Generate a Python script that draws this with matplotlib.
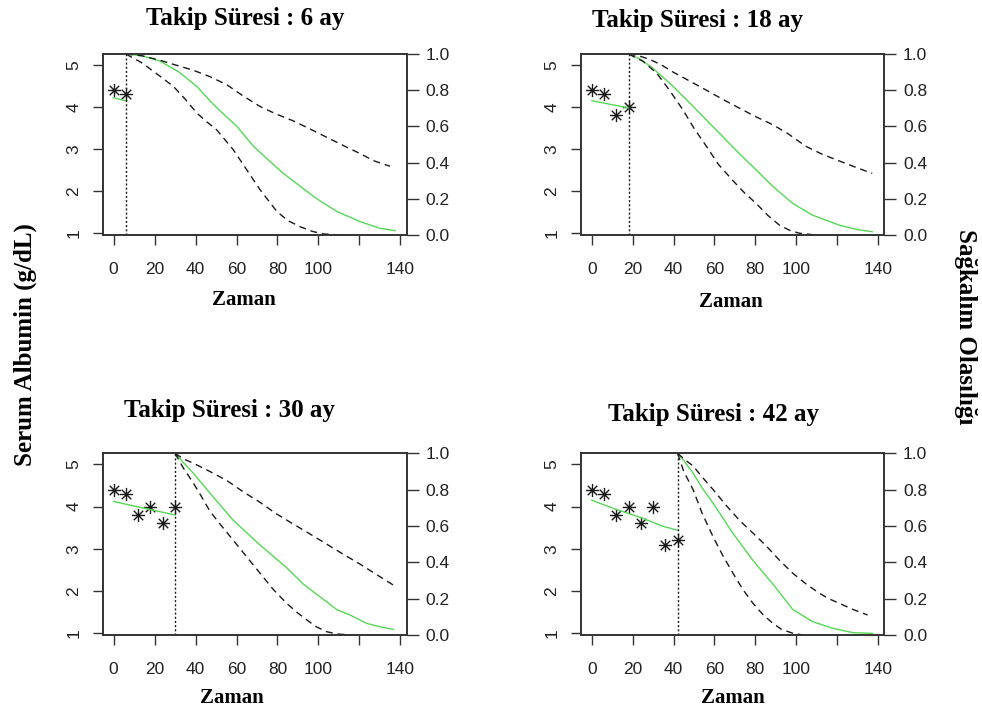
import matplotlib

matplotlib.use("Agg")
import matplotlib.pyplot as plt
from matplotlib.path import Path

# observed albumin values (g/dL) per visit month
obs_time = [0, 6, 12, 18, 24, 30, 36, 42]
obs_alb = [4.4, 4.3, 3.8, 4.0, 3.6, 4.0, 3.1, 3.2]

followup = [6, 18, 30, 42]
titles = ["Takip Süresi : 6 ay", "Takip Süresi : 18 ay",
          "Takip Süresi : 30 ay", "Takip Süresi : 42 ay"]

# fitted longitudinal trajectory (green) up to the follow-up time
fit_t = [[0, 6], [0, 18], [0, 30], [0, 12, 24, 35, 42]]
fit_y = [[4.22, 4.15], [4.15, 3.98], [4.12, 3.80], [4.15, 3.93, 3.74, 3.53, 3.44]]

# survival estimate and pointwise band
surv_t = [
    [6, 14, 22.8, 32, 40.7, 48.8, 60.2, 68.3, 76, 82.9, 91, 99.2, 109, 120.3, 130, 137.4],
    [18, 24, 30, 39, 47.9, 60.9, 72.2, 80.4, 88.5, 98.3, 108, 121, 130, 137.3],
    [30, 34, 39, 47.1, 58.5, 71.5, 84.5, 92.6, 100.8, 108.9, 115.4, 123.5, 130, 136.5],
    [42, 45, 49.6, 54, 59.4, 69.1, 78.9, 88.7, 98.4, 108.2, 117.9, 127.7, 137.5],
]
surv_s = [
    [1.0, 0.99, 0.96, 0.90, 0.82, 0.72, 0.60, 0.49, 0.41, 0.34, 0.27, 0.20, 0.13, 0.074, 0.037, 0.024],
    [1.0, 0.97, 0.92, 0.83, 0.73, 0.58, 0.45, 0.36, 0.27, 0.175, 0.11, 0.055, 0.03, 0.018],
    [1.0, 0.95, 0.89, 0.78, 0.63, 0.495, 0.37, 0.28, 0.21, 0.14, 0.11, 0.064, 0.045, 0.031],
    [1.0, 0.96, 0.89, 0.81, 0.725, 0.56, 0.41, 0.28, 0.14, 0.073, 0.037, 0.013, 0.009],
]
upper_t = [
    [6, 14, 22.8, 30, 39, 47, 55.3, 63, 71.5, 79, 87.8, 96, 104, 112, 120.3, 127, 134.9],
    [18, 23, 28.4, 34, 39.8, 48, 56.1, 64, 72.4, 80, 88.5, 96, 104.8, 113, 121, 129, 137.3],
    [30, 34, 39, 47, 55.3, 63, 71.5, 79, 87.8, 96, 104, 112, 120.3, 128, 136.5],
    [42, 45, 49.6, 54, 59.4, 66, 72.4, 79, 85.4, 92, 98.4, 105, 111.4, 116, 121.2, 128, 135],
]
upper_s = [
    [1.0, 0.99, 0.965, 0.94, 0.91, 0.875, 0.83, 0.77, 0.71, 0.67, 0.63, 0.585, 0.54, 0.495, 0.45, 0.41, 0.38],
    [1.0, 0.99, 0.97, 0.94, 0.90, 0.85, 0.80, 0.75, 0.70, 0.655, 0.61, 0.56, 0.49, 0.445, 0.41, 0.375, 0.34],
    [1.0, 0.97, 0.945, 0.90, 0.85, 0.79, 0.73, 0.67, 0.61, 0.555, 0.50, 0.445, 0.39, 0.335, 0.275],
    [1.0, 0.97, 0.93, 0.87, 0.80, 0.71, 0.63, 0.56, 0.49, 0.41, 0.34, 0.28, 0.23, 0.20, 0.174, 0.14, 0.11],
]
lower_t = [
    [6, 14, 22.8, 29.3, 35, 40.7, 45, 50.4, 58.5, 65, 71.5, 79.7, 85, 91, 97, 102.4, 110.5],
    [18, 25, 31.7, 38, 44.7, 50, 56.1, 62, 69.1, 75, 80.4, 86, 91.8, 97, 101.5, 109.6],
    [30, 34, 39, 43, 47.1, 52, 58.5, 65, 71.5, 78, 84.5, 90, 94.3, 99, 104, 109, 115.4],
    [42, 45, 49.6, 54, 59.4, 64, 69.1, 74, 78.9, 84, 88.7, 93, 98.4, 103.3],
]
lower_s = [
    [1.0, 0.95, 0.876, 0.82, 0.75, 0.673, 0.63, 0.58, 0.47, 0.36, 0.25, 0.13, 0.08, 0.046, 0.02, 0.006, 0.0],
    [1.0, 0.96, 0.895, 0.80, 0.69, 0.59, 0.49, 0.39, 0.30, 0.23, 0.175, 0.11, 0.055, 0.025, 0.01, 0.0],
    [1.0, 0.92, 0.835, 0.76, 0.68, 0.61, 0.52, 0.43, 0.34, 0.25, 0.174, 0.12, 0.083, 0.045, 0.018, 0.006, 0.0],
    [1.0, 0.90, 0.80, 0.67, 0.54, 0.44, 0.34, 0.25, 0.174, 0.11, 0.064, 0.03, 0.01, 0.0],
]

x_ticks = [0, 20, 40, 60, 80, 100, 120, 140]
x_labels = ["0", "20", "40", "60", "80", "100", "", "140"]
alb_ticks = [1, 2, 3, 4, 5]
surv_ticks = [0.0, 0.2, 0.4, 0.6, 0.8, 1.0]

W, H = 982, 717
# axes boxes in pixels: left, right, top, bottom
boxes = [(102.7, 407, 54, 235), (581, 884.3, 54, 235),
         (102.7, 407, 453.3, 635), (581, 884.3, 453.3, 635)]
title_pos = [(245, 19), (697, 21), (229, 411), (714, 415)]
xlab_pos = [(244, 300), (731, 302), (232, 698), (733, 698)]

GREEN = "#55d955"
INK = "#1a1a1a"
SERIF = "Liberation Serif"
SANS = "Liberation Sans"

# R style asterisk (pch = 8)
d = 0.72
star = Path([(-1, 0), (1, 0), (0, -1), (0, 1), (-d, -d), (d, d), (-d, d), (d, -d)],
            [Path.MOVETO, Path.LINETO] * 4)

fig = plt.figure(figsize=(W / 100, H / 100), dpi=100)

for i in range(4):
    l, r, t, b = boxes[i]
    ax = fig.add_axes([l / W, 1 - b / H, (r - l) / W, (b - t) / H])
    ax2 = ax.twinx()

    n = sum(1 for tt in obs_time if tt <= followup[i])
    ax.plot(obs_time[:n], obs_alb[:n], linestyle="none", marker=star,
            markersize=9.5, markeredgewidth=1.0, color=INK)
    ax.plot(fit_t[i], fit_y[i], color=GREEN, lw=1.0)
    ax.axvline(followup[i], color=INK, lw=1.0, linestyle=(0, (1.5, 1.5)))

    ax2.plot(surv_t[i], surv_s[i], color=GREEN, lw=1.0)
    ax2.plot(upper_t[i], upper_s[i], color=INK, lw=1.0, dashes=(5, 3.5))
    ax2.plot(lower_t[i], lower_s[i], color=INK, lw=1.0, dashes=(5, 3.5))

    ax.set_xlim(-5.3, 143.2)
    ax.set_ylim(0.96, 5.26)
    ax2.set_ylim(0, 1)

    ax.set_xticks(x_ticks)
    ax.set_xticklabels(x_labels, fontsize=12.5, family=SANS, color="#222")
    ax.set_yticks(alb_ticks)
    ax.set_yticklabels([str(v) for v in alb_ticks], fontsize=12.5, family=SANS,
                       color="#222", rotation=90, va="center")
    ax2.set_yticks(surv_ticks)
    ax2.set_yticklabels([f"{v:.1f}" for v in surv_ticks], fontsize=12.5,
                        family=SANS, color="#222")

    ax.tick_params(axis="x", length=7.5, width=1.0, pad=12, color="#333")
    ax.tick_params(axis="y", length=7.5, width=1.0, pad=8, color="#333")
    ax2.tick_params(axis="y", length=8.5, width=1.0, pad=5, color="#333")
    for a in (ax, ax2):
        for sp in a.spines.values():
            sp.set_color("#333")
            sp.set_linewidth(1.2)

    fig.text(title_pos[i][0] / W, 1 - title_pos[i][1] / H, titles[i],
             ha="center", va="center", fontsize=18, fontweight="bold", family=SERIF)
    fig.text(xlab_pos[i][0] / W, 1 - xlab_pos[i][1] / H, "Zaman",
             ha="center", va="center", fontsize=15, fontweight="bold", family=SERIF)

fig.text(25 / W, 1 - 345 / H, "Serum Albumin (g/dL)", rotation=90,
         ha="center", va="center", fontsize=18, fontweight="bold", family=SERIF)
fig.text(965 / W, 1 - 327 / H, "Sağkalım Olasılığı", rotation=-90,
         ha="center", va="center", fontsize=18, fontweight="bold", family=SERIF)

fig.savefig("out.png", dpi=100)
